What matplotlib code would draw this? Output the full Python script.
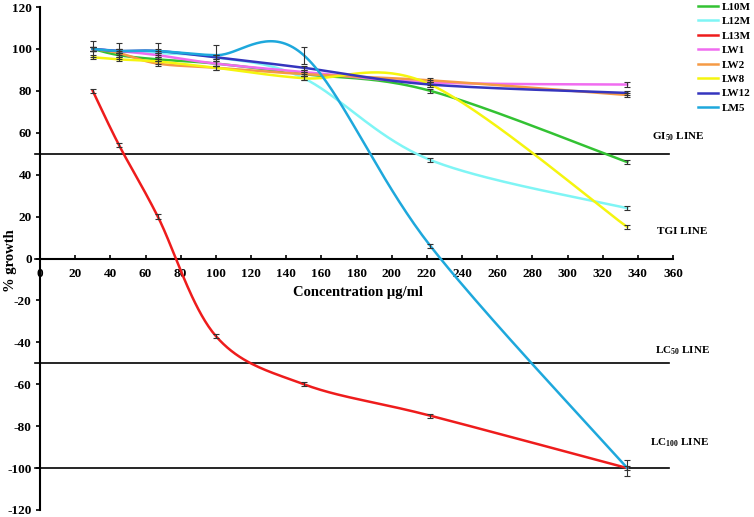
import matplotlib

matplotlib.use("Agg")
import matplotlib.pyplot as plt
import numpy as np

plt.rcParams["font.family"] = ["Liberation Serif", "DejaVu Serif"]
plt.rcParams["font.weight"] = "bold"
plt.rcParams["axes.unicode_minus"] = False
plt.rcParams["mathtext.fontset"] = "custom"
plt.rcParams["mathtext.rm"] = "Liberation Serif:bold"
plt.rcParams["mathtext.default"] = "rm"

# concentrations (ug/ml)
conc = [30, 45, 67, 100, 150, 222, 334]

# % growth per extract
l10m = [100, 97, 95, 93, 88, 80, 46]
l12m = [100, 99, 98, 96, 86, 47, 24]
l13m = [80, 54, 20, -37, -60, -75, -100]
lw1 = [100, 99, 97, 93, 89, 84, 83]
lw2 = [100, 98, 93, 91, 88, 85, 78]
lw8 = [96, 95, 94, 91, 86, 83, 15]
lw12 = [100, 99, 99, 96, 91, 83, 79]
lm5 = [100, 99, 99, 97, 97, 6, -100]

err_small = [1, 1, 1, 1, 1, 1, 1]
err_lm5 = [4, 4, 4, 5, 4, 1, 4]

names = ["L10M", "L12M", "L13M", "LW1", "LW2", "LW8", "LW12", "LM5"]
colors = ["#33C233", "#7FF5F5", "#EE1C1C", "#F06CF0", "#F59A45",
          "#F5F50F", "#3535BE", "#1EA8DC"]

# reference lines: (value, label, label x, label y)
ref_lines = [(50, r"GI$_{50}$ LINE", 348, 58),
             (0, "TGI LINE", 351, 13),
             (-50, r"LC$_{50}$ LINE", 350, -44),
             (-100, r"LC$_{100}$ LINE", 347, -88)]


def smooth(xs, ys, n=40):
    # Excel-like smoothed line: Catmull-Rom as cubic Bezier segments
    p = np.column_stack([xs, ys]).astype(float)
    ext = np.vstack([p[0], p, p[-1]])
    out = []
    for i in range(len(p) - 1):
        p0, p1, p2, p3 = ext[i], ext[i + 1], ext[i + 2], ext[i + 3]
        c1 = p1 + (p2 - p0) / 6
        c2 = p2 - (p3 - p1) / 6
        t = np.linspace(0, 1, n)[:, None]
        seg = ((1 - t) ** 3 * p1 + 3 * (1 - t) ** 2 * t * c1
               + 3 * (1 - t) * t ** 2 * c2 + t ** 3 * p2)
        out.append(seg if i == 0 else seg[1:])
    s = np.vstack(out)
    return s[:, 0], s[:, 1]


fig = plt.figure(figsize=(7.54, 5.17), dpi=100)
ax = fig.add_axes([40 / 754, 1 - 510 / 517, 633 / 754, 503 / 517])

for v, lab, lx, ly in ref_lines:
    ax.plot([-3, 358], [v, v], color="black", lw=1.2, clip_on=False, zorder=1)
    ax.text(lx, ly, lab, fontsize=8, fontweight="bold", va="center", ha="left")

series = [l10m, l12m, l13m, lw1, lw2, lw8, lw12, lm5]
for name, ys, col in zip(names, series, colors):
    sx, sy = smooth(conc, ys)
    ax.plot(sx, sy, color=col, lw=1.8, label=name, zorder=3)
    err = err_lm5 if name == "LM5" else err_small
    ax.errorbar(conc, ys, yerr=err, fmt="none", ecolor="#333333",
                elinewidth=0.8, capsize=2.2, capthick=0.8, zorder=4)

ax.set_xlim(0, 360)
ax.set_ylim(-120, 120)
ax.set_xticks(range(0, 361, 20))
ax.set_yticks(range(-120, 121, 20))
ax.spines["top"].set_visible(False)
ax.spines["right"].set_visible(False)
ax.spines["bottom"].set_position(("data", 0))
ax.spines["left"].set_linewidth(1.5)
ax.spines["bottom"].set_linewidth(1.5)
ax.tick_params(axis="both", labelsize=9.5, width=1.2, length=3)
ax.tick_params(axis="x", direction="in", pad=7)
ax.tick_params(axis="y", pad=3)
for lbl in ax.get_xticklabels() + ax.get_yticklabels():
    lbl.set_fontweight("bold")

ax.text(181, -16, "Concentration µg/ml", fontsize=10.5, fontweight="bold",
        ha="center", va="center")
ax.set_ylabel("% growth", fontsize=10.5, fontweight="bold")
ax.yaxis.set_label_coords(-0.036, 0.495)

fig.legend(loc="upper left", bbox_to_anchor=(698 / 754, 1 - 2 / 517),
           frameon=False, handlelength=1.8, handletextpad=0.3,
           labelspacing=0.42, borderpad=0, borderaxespad=0,
           prop={"weight": "bold", "size": 8})

fig.savefig("out.png", dpi=100)
